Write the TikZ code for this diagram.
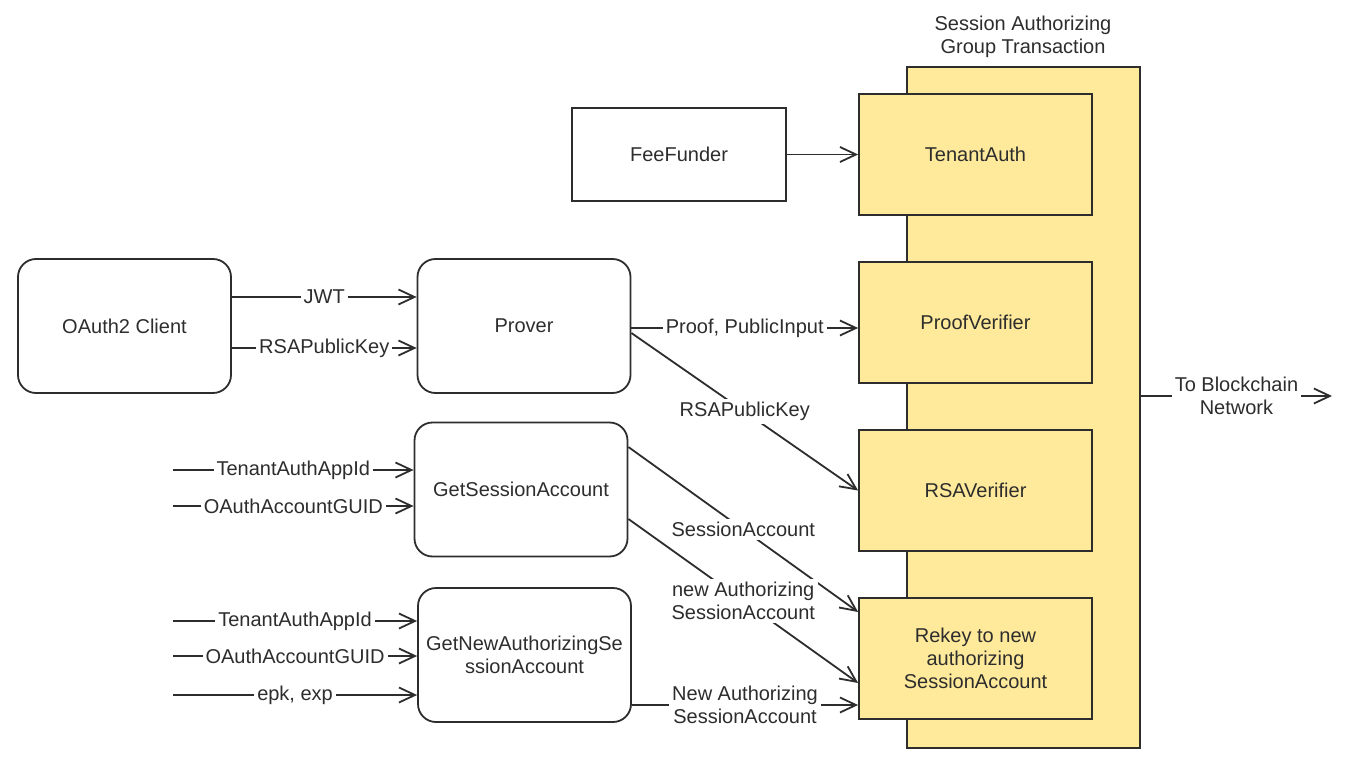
\documentclass[tikz,border=0pt]{standalone}
\usepackage{fontspec}
\setmainfont{Liberation Sans}
\usetikzlibrary{arrows.meta,positioning}

\definecolor{txyellow}{RGB}{255,234,155}
\definecolor{inkgray}{RGB}{45,45,45}

\begin{document}
\begin{tikzpicture}[x=0.5pt,y=-0.5pt,->,>={Straight Barb[length=8pt,width=7.5pt]},
                    line width=0.9pt,draw=inkgray,color=inkgray,
                    font=\fontsize{10}{11.5}\selectfont,
                    proc/.style={draw,rounded corners=9pt,minimum width=106.5pt,minimum height=67pt,align=center},
                    tx/.style={draw,fill=txyellow,minimum width=116.5pt,minimum height=60.5pt,align=center},
                    lbl/.style={fill=white,inner sep=1.5pt,align=center}]

  \useasboundingbox (0,0) rectangle (1355,765);

  % group transaction
  \node[draw,fill=txyellow,minimum width=116.5pt,minimum height=340.5pt] (grp) at (1023.5,407.5) {};
  \node[align=center] (title) at (1023,37) {Session Authorizing\\Group Transaction};

  \node[tx] (tenant) at (975.5,154.5) {TenantAuth};
  \node[tx] (proofv) at (975.5,322.5) {ProofVerifier};
  \node[tx] (rsav)   at (975.5,490.5) {RSAVerifier};
  \node[tx] (rekey)  at (975.5,658.5) {Rekey to new\\authorizing\\SessionAccount};

  % left side
  \node[draw,minimum width=107pt,minimum height=46.5pt] (fee) at (679,154.5) {FeeFunder};
  \node[proc] (oauth)  at (124.5,326) {OAuth2 Client};
  \node[proc] (prover) at (524,326)   {Prover};
  \node[proc] (getsa)  at (521,489.5) {GetSessionAccount};
  \node[proc] (getnew) at (524.5,655) {GetNewAuthorizingSe\\ssionAccount};

  \coordinate (in1) at (173,470);
  \coordinate (in2) at (173,506);
  \coordinate (in3) at (173,621);
  \coordinate (in4) at (173,656);
  \coordinate (in5) at (173,695);
  \coordinate (out) at (1332,396);

  \path (fee) edge (tenant)
        (oauth.east |- 0,297) edge node[lbl] {JWT} (prover.west |- 0,297)
        (oauth.east |- 0,348) edge node[lbl] {RSAPublicKey} (prover.west |- 0,348)
        (prover.east |- 0,328) edge node[lbl] {Proof, PublicInput} (proofv.west |- 0,328)
        (prover.east |- 0,333) edge node[lbl] {RSAPublicKey} (rsav.west)
        (in1) edge node[lbl] {TenantAuthAppId} (getsa.west |- in1)
        (in2) edge node[lbl] {OAuthAccountGUID} (getsa.west |- in2)
        (in3) edge node[lbl] {TenantAuthAppId} (getnew.west |- in3)
        (in4) edge node[lbl] {OAuthAccountGUID} (getnew.west |- in4)
        (in5) edge node[lbl] {epk, exp} (getnew.west |- in5)
        (getsa.east |- 0,447) edge node[lbl] {SessionAccount} (rekey.west |- 0,612)
        (getsa.east |- 0,519) edge node[lbl] {new Authorizing\\SessionAccount} (rekey.west |- 0,683)
        (getnew.east |- 0,705) edge node[lbl] {New Authorizing\\SessionAccount} (rekey.west |- 0,705)
        (grp.east |- out) edge node[lbl] {To Blockchain\\Network} (out);
\end{tikzpicture}
\end{document}
